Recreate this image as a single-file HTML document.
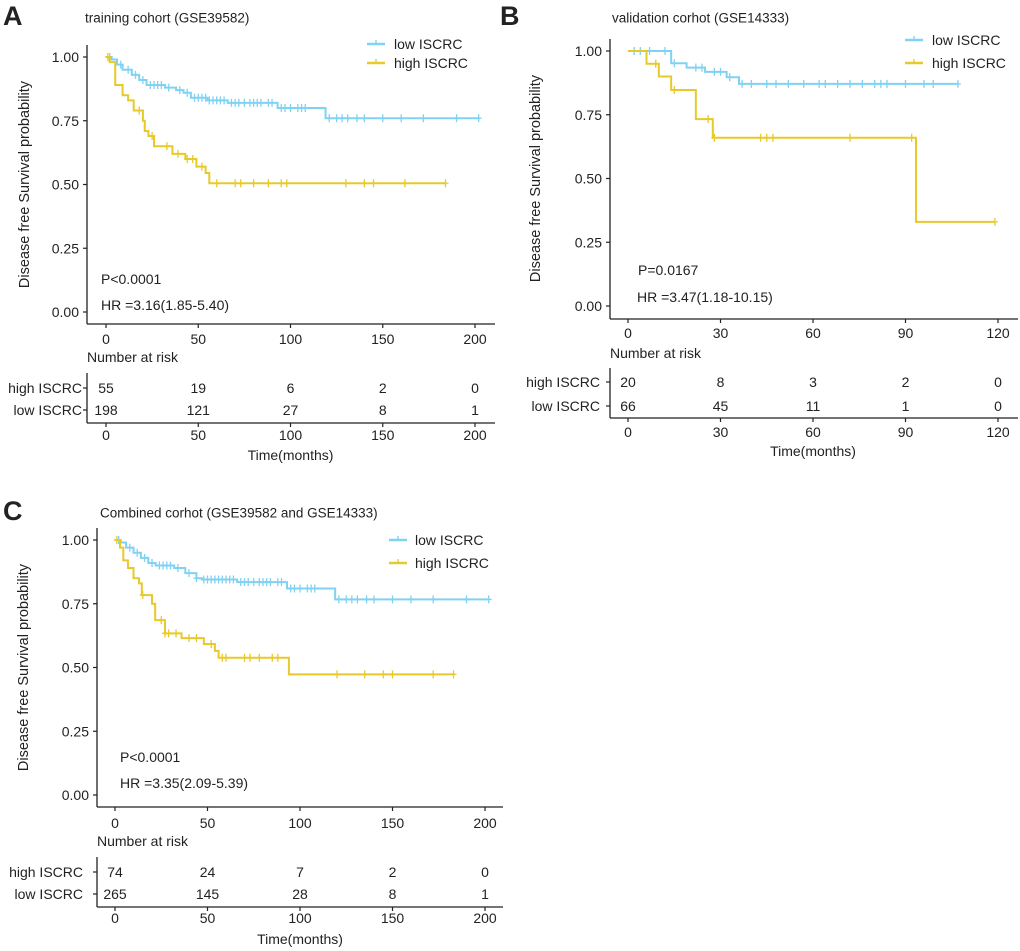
<!DOCTYPE html>
<html><head><meta charset="utf-8"><style>
body{margin:0;background:#fff;}
svg{display:block;font-family:"Liberation Sans",Arial,sans-serif;}
</style></head><body>
<svg id="c" width="1020" height="951" viewBox="0 0 1020 951"></svg>
<script>
// ---------- data ----------
const panelLetters = ["A","B","C"];
const panelTitles = ["training cohort (GSE39582)","validation corhot (GSE14333)","Combined corhot (GSE39582 and GSE14333)"];
const groups = ["low ISCRC","high ISCRC"];
const yTicks = [0,0.25,0.5,0.75,1];
const yTickLabels = ["0.00","0.25","0.50","0.75","1.00"];
const xTicksA = [0,50,100,150,200];
const xTicksB = [0,30,60,90,120];
const xTicksC = [0,50,100,150,200];
const pTexts = ["P<0.0001","P=0.0167","P<0.0001"];
const hrTexts = ["HR =3.16(1.85-5.40)","HR =3.47(1.18-10.15)","HR =3.35(2.09-5.39)"];
const lowA_t = [0,3,6,9,14,18,22,32,38,42,46,55,66,93,119,202];
const lowA_s = [1,0.99,0.97,0.95,0.93,0.91,0.89,0.88,0.87,0.86,0.84,0.83,0.82,0.80,0.76,0.76];
const highA_t = [0,2,5,9,12,15,20,21,23,26,36,43,49,54,56,184];
const highA_s = [1,0.98,0.89,0.85,0.83,0.79,0.75,0.71,0.69,0.65,0.62,0.60,0.57,0.545,0.505,0.505];
const lowB_t = [0,14,19,25,32,36,107];
const lowB_s = [1,0.952,0.935,0.918,0.897,0.871,0.871];
const highB_t = [0,6,10,14,22,27.5,93.4,119];
const highB_s = [1,0.95,0.90,0.847,0.733,0.66,0.33,0.33];
const lowC_t = [0,3,6,10,14,18,22,32,38,44,47,66,93,119,202];
const lowC_s = [1,0.99,0.97,0.95,0.93,0.91,0.90,0.89,0.87,0.85,0.845,0.835,0.81,0.767,0.767];
const highC_t = [0,2.7,4.5,7,10,13,14.5,20,21.7,27,36,48,54,56,94,183];
const highC_s = [1,0.97,0.92,0.89,0.85,0.83,0.784,0.75,0.686,0.634,0.615,0.592,0.565,0.538,0.473,0.473];
const lowA_c = [2,8,12,16,20,24,26,28,30,34,40,44,48,50,52,54,56,58,60,62,64,68,70,72,75,78,80,82,84,88,90,95,97,100,104,106,108,121,125,128,131,136,140,150,160,172,190,202];
const highA_c = [1,18,25,33,39,44,47,52,60,70,73,80,88,95,98,130,140,145,162,184];
const lowB_c = [2,4,7,12,15,22,24,28,30,33,37,40,45,48,52,57,62,64,68,72,76,80,82,84,90,96,99,107];
const highB_c = [9,15,26,28,43,45,47,72,92,119];
const lowC_c = [2,8,12,16,20,24,26,28,30,34,40,44,48,50,52,54,56,58,60,62,64,68,70,72,75,78,80,82,84,88,90,95,97,100,104,106,108,121,125,128,131,136,140,150,160,172,190,202];
const highC_c = [1,15,25,27,29,33,40,44,52,58,60,70,73,78,85,88,120,135,145,150,172,183];
const riskHighA = [55,19,6,2,0], riskLowA = [198,121,27,8,1];
const riskHighB = [20,8,3,2,0], riskLowB = [66,45,11,1,0];
const riskHighC = [74,24,7,2,0], riskLowC = [265,145,28,8,1];

// ---------- layout ----------
const LOW="#80d2f2", HIGH="#e8c92a", INK="#222";
const layouts = [
 {ax:87,x0:106,x1:475,xr:200,y1:57,y0:312,axB:495,axY:324,tickLab:339,nar:357,tTop:373,tBot:423,r1:388,r2:410,bLab:435,time:455,rowR:82,ytx:25,
  letter:[3,28],title:[85,21],leg:[367,394,44,63],pt:[101,279],hr:[101,305],xt:xTicksA,
  low:[lowA_t,lowA_s,lowA_c],high:[highA_t,highA_s,highA_c],rl:riskLowA,rh:riskHighA},
 {ax:610,x0:628,x1:998,xr:120,y1:51,y0:306,axB:1018,axY:319,tickLab:333,nar:353,tTop:368,tBot:418,r1:382,r2:406,bLab:432,time:451,rowR:600,ytx:536,
  letter:[500,28],title:[612,21],leg:[905,932,40,63],pt:[638,270],hr:[637,297],xt:xTicksB,
  low:[lowB_t,lowB_s,lowB_c],high:[highB_t,highB_s,highB_c],rl:riskLowB,rh:riskHighB},
 {ax:97,x0:115,x1:485,xr:200,y1:540,y0:795,axB:503,axY:807,tickLab:823,nar:841,tTop:857,tBot:907,r1:872,r2:894,bLab:918,time:939,rowR:83,ytx:24,
  letter:[3,523],title:[100,516],leg:[389,415,540,563],pt:[120,757],hr:[120,783],xt:xTicksC,
  low:[lowC_t,lowC_s,lowC_c],high:[highC_t,highC_s,highC_c],rl:riskLowC,rh:riskHighC}
];
const svg=document.getElementById('c');
const NS="http://www.w3.org/2000/svg";
function mk(tag,attrs,parent){const e=document.createElementNS(NS,tag);for(const k in attrs)e.setAttribute(k,attrs[k]);(parent||svg).appendChild(e);return e;}
function txt(s,x,y,size,anchor,parent){const t=mk('text',{x:x,y:y,'font-size':size,'text-anchor':anchor||'start',fill:INK,'dominant-baseline':'central'},parent);t.textContent=s;return t;}
function stepVal(ts,ss,t){let v=ss[0];for(let i=0;i<ts.length;i++){if(ts[i]<=t)v=ss[i];}return v;}

layouts.forEach((L,pi)=>{
  const g=mk('g',{});
  
  
  const X=t=>L.x0+(L.x1-L.x0)*t/L.xr;
  const Y=s=>L.y0-(L.y0-L.y1)*s;
  const lt=txt(panelLetters[pi],L.letter[0],L.letter[1]-12,27,'start',g);lt.setAttribute('font-weight','bold');
  
  const tt=txt(panelTitles[pi],L.title[0],L.title[1]-3,13.5,'start',g);
  
  const yAx=mk('line',{x1:L.ax,y1:L.y1-12,x2:L.ax,y2:L.axY,stroke:INK,'stroke-width':1.3},g);
  
  const xAx=mk('line',{x1:L.ax,y1:L.axY,x2:L.axB,y2:L.axY,stroke:INK,'stroke-width':1.3},g);
  
  yTicks.forEach((v,i)=>{
    mk('line',{x1:L.ax-4,x2:L.ax,y1:Y(v),y2:Y(v),stroke:INK,'stroke-width':1.2},g);
    const l=txt(yTickLabels[i],L.ax-8,Y(v),14,'end',g);
    
  });
  L.xt.forEach(v=>{
    mk('line',{x1:X(v),x2:X(v),y1:L.axY,y2:L.axY+4,stroke:INK,'stroke-width':1.2},g);
    const l=txt(String(v),X(v),L.tickLab,14,'middle',g);
    
  });
  const yt=txt('Disease free Survival probability',0,0,14.5,'middle',g);
  yt.setAttribute('transform','translate('+L.ytx+','+((L.y0+L.y1)/2)+') rotate(-90)');
  
  [[L.low,LOW,'low'],[L.high,HIGH,'high']].forEach(([d,col,nm])=>{
    const [ts,ss,cs]=d;let p='M'+X(ts[0])+','+Y(ss[0]);
    for(let i=1;i<ts.length;i++){p+=' H'+X(ts[i])+' V'+Y(ss[i]);}
    const path=mk('path',{d:p,fill:'none',stroke:col,'stroke-width':2},g);
    
    cs.forEach(c=>{const cy=Y(stepVal(ts,ss,c));
      const m=mk('path',{d:'M'+(X(c)-3)+','+cy+' H'+(X(c)+3)+' M'+X(c)+','+(cy-4)+' V'+(cy+4),stroke:col,'stroke-width':1.3},g);
      });
  });
  [[LOW,groups[0],L.leg[2]],[HIGH,groups[1],L.leg[3]]].forEach(([col,lab,y])=>{
    const lg=mk('g',{},g);
    mk('line',{x1:L.leg[0],x2:L.leg[0]+18,y1:y,y2:y,stroke:col,'stroke-width':2.5},lg);
    mk('line',{x1:L.leg[0]+9,x2:L.leg[0]+9,y1:y-4,y2:y+1,stroke:col,'stroke-width':1.3},lg);
    txt(lab,L.leg[1],y,14,'start',lg);
  });
  const p=txt(pTexts[pi],L.pt[0],L.pt[1],14,'start',g);
  const h=txt(hrTexts[pi],L.hr[0],L.hr[1],14,'start',g);
  const n=txt('Number at risk',L.ax,L.nar,14,'start',g);
  mk('line',{x1:L.ax,y1:L.tTop,x2:L.ax,y2:L.tBot,stroke:INK,'stroke-width':1.3},g);
  mk('line',{x1:L.ax,y1:L.tBot,x2:L.axB,y2:L.tBot,stroke:INK,'stroke-width':1.3},g);
  [[groups[1],L.r1,L.rh],[groups[0],L.r2,L.rl]].forEach(([lab,y,vals])=>{
    mk('line',{x1:L.ax-4,x2:L.ax,y1:y,y2:y,stroke:INK,'stroke-width':1.2},g);
    const rl=txt(lab,L.rowR,y,14,'end',g);
    vals.forEach((v,i)=>{const c=txt(String(v),X(L.xt[i]),y,14,'middle',g);
      });
  });
  L.xt.forEach(v=>{
    mk('line',{x1:X(v),x2:X(v),y1:L.tBot,y2:L.tBot+4,stroke:INK,'stroke-width':1.2},g);
    const l=txt(String(v),X(v),L.bLab,14,'middle',g);
    
  });
  const tm=txt('Time(months)',(L.x0+L.x1)/2,L.time,14,'middle',g);
  
});
</script>
</body></html>
